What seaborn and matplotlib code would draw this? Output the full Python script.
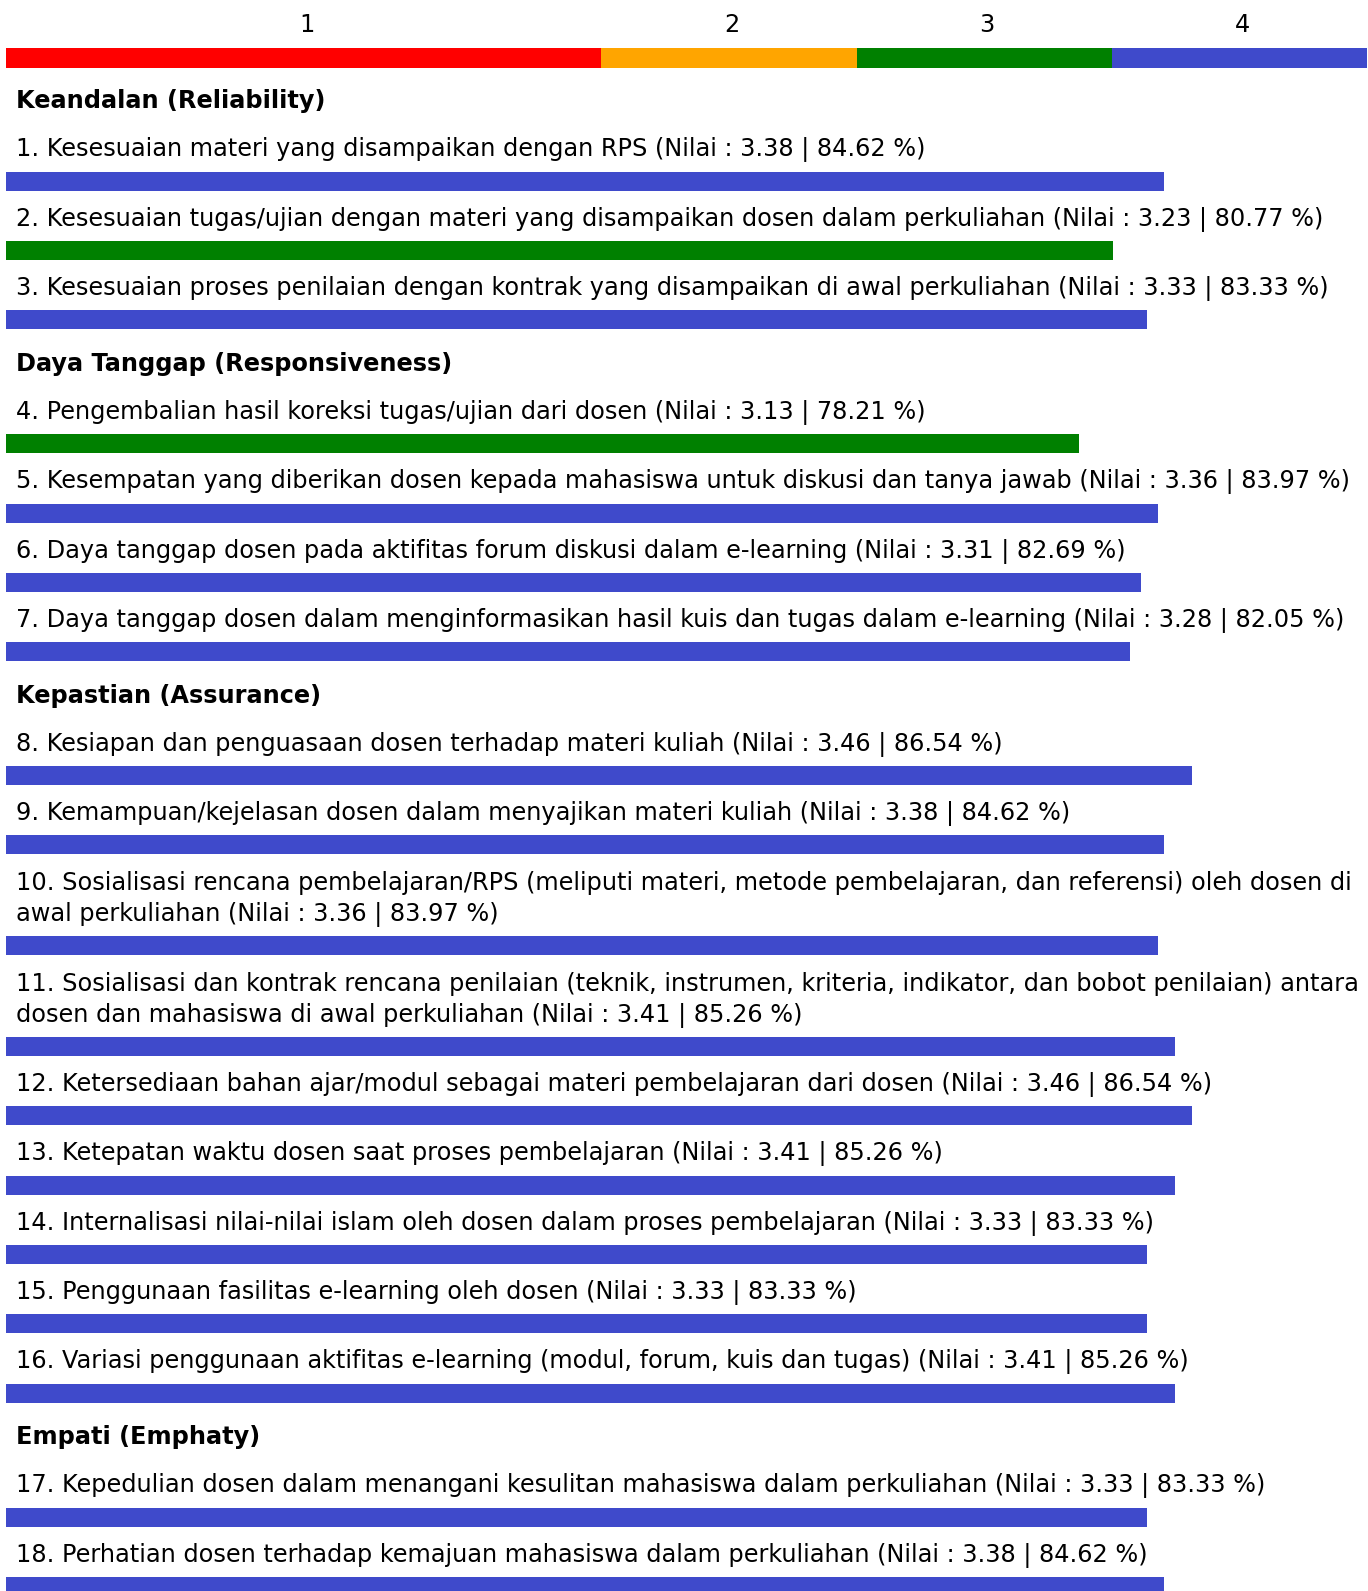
import numpy as np
import pandas as pd
import matplotlib.pyplot as plt
import seaborn as sns
from matplotlib.transforms import blended_transform_factory, ScaledTranslation

# Skala penilaian (batas nilai dan warna)
scale_edges = [0, 1.75, 2.5, 3.25, 4]
scale_labels = ["1", "2", "3", "4"]
scale_colors = ["#ff0000", "#ffa500", "#008000", "#3f4acb"]

# Kategori (aspek)
sections = ["Keandalan (Reliability)", "Daya Tanggap (Responsiveness)",
            "Kepastian (Assurance)", "Empati (Emphaty)"]
section_of = [0, 0, 0, 1, 1, 1, 1, 2, 2, 2, 2, 2, 2, 2, 2, 2, 3, 3]

items = [
    "Kesesuaian materi yang disampaikan dengan RPS",
    "Kesesuaian tugas/ujian dengan materi yang disampaikan dosen dalam perkuliahan",
    "Kesesuaian proses penilaian dengan kontrak yang disampaikan di awal perkuliahan",
    "Pengembalian hasil koreksi tugas/ujian dari dosen",
    "Kesempatan yang diberikan dosen kepada mahasiswa untuk diskusi dan tanya jawab",
    "Daya tanggap dosen pada aktifitas forum diskusi dalam e-learning",
    "Daya tanggap dosen dalam menginformasikan hasil kuis dan tugas dalam e-learning",
    "Kesiapan dan penguasaan dosen terhadap materi kuliah",
    "Kemampuan/kejelasan dosen dalam menyajikan materi kuliah",
    "Sosialisasi rencana pembelajaran/RPS (meliputi materi, metode pembelajaran, dan referensi) oleh dosen di\nawal perkuliahan",
    "Sosialisasi dan kontrak rencana penilaian (teknik, instrumen, kriteria, indikator, dan bobot penilaian) antara\ndosen dan mahasiswa di awal perkuliahan",
    "Ketersediaan bahan ajar/modul sebagai materi pembelajaran dari dosen",
    "Ketepatan waktu dosen saat proses pembelajaran",
    "Internalisasi nilai-nilai islam oleh dosen dalam proses pembelajaran",
    "Penggunaan fasilitas e-learning oleh dosen",
    "Variasi penggunaan aktifitas e-learning (modul, forum, kuis dan tugas)",
    "Kepedulian dosen dalam menangani kesulitan mahasiswa dalam perkuliahan",
    "Perhatian dosen terhadap kemajuan mahasiswa dalam perkuliahan",
]
nilai = [3.38, 3.23, 3.33, 3.13, 3.36, 3.31, 3.28, 3.46, 3.38,
         3.36, 3.41, 3.46, 3.41, 3.33, 3.33, 3.41, 3.33, 3.38]
persen = [84.62, 80.77, 83.33, 78.21, 83.97, 82.69, 82.05, 86.54, 84.62,
          83.97, 85.26, 86.54, 85.26, 83.33, 83.33, 85.26, 83.33, 84.62]

# Ukuran gambar (piksel)
W, H = 1368, 1591
FS = 17.3
bar_h = 19
line_gap = 31.5

sns.set_theme(style="white")
plt.rcParams['font.family'] = ['DejaVu Sans']

# Tata letak vertikal (piksel dari atas)
header_y, text_y, bar_y = [], [], []
y = 99.5
prev = None
for i, sec in enumerate(section_of):
    if sec != prev:
        if prev is not None:
            y += 42.6
        header_y.append(y)
        y += 47.7
    else:
        y += 35.5
    n_lines = items[i].count("\n") + 1
    text_y.append(y)
    y += line_gap * (n_lines - 1)
    y += 33.8
    bar_y.append(y)
    prev = sec

# Warna bar berdasarkan skala
band = np.digitize(nilai, scale_edges[1:-1])
df = pd.DataFrame({"nilai": nilai, "y": bar_y, "band": [scale_labels[b] for b in band]})

fig = plt.figure(figsize=(W / 100, H / 100), dpi=100)

# Skala di atas
ax_top = fig.add_axes([6 / W, 1 - 67.5 / H, (W - 7) / W, 19.5 / H])
ax_top.barh(0, np.diff(scale_edges), left=scale_edges[:-1], height=1,
            color=scale_colors, linewidth=0)
ax_top.set_xlim(scale_edges[0], scale_edges[-1])
ax_top.set_ylim(-0.5, 0.5)
ax_top.axis("off")
tr_top = blended_transform_factory(ax_top.transData, fig.transFigure) + \
    ScaledTranslation(3 / 100, 0, fig.dpi_scale_trans)
mids = (np.array(scale_edges[:-1]) + np.array(scale_edges[1:])) / 2
for m, lab in zip(mids, scale_labels):
    ax_top.text(m, 1 - 25.5 / H, lab, transform=tr_top, ha="center", va="center",
                fontsize=FS, color="black")

# Bar utama
ax = fig.add_axes([0, 0, 1, 1])
px_per_unit = 1371 / 4
x0 = -6 / px_per_unit
min_gap = np.min(np.diff(bar_y))
sns.barplot(data=df, x="nilai", y="y", hue="band", orient="y", native_scale=True,
            palette=dict(zip(scale_labels, scale_colors)), width=bar_h / min_gap,
            dodge=False, legend=False, errorbar=None, saturation=1, ax=ax,
            linewidth=0)
ax.set_xlim(x0, x0 + W / px_per_unit)
ax.set_ylim(H, 0)
ax.axis("off")

tr = blended_transform_factory(ax.transAxes, ax.transData)
for s, hy in zip(sections, header_y):
    ax.text(16 / W, hy + 1.5, s, transform=tr, ha="left", va="center",
            fontsize=FS, fontweight="bold", color="black")
for i, (t, v, p) in enumerate(zip(items, nilai, persen)):
    label = f"{i + 1}. {t} (Nilai : {v:.2f} | {p:.2f} %)"
    for k, line in enumerate(label.split("\n")):
        ax.text(16 / W, text_y[i] + 2.5 + k * line_gap, line, transform=tr,
                ha="left", va="center", fontsize=FS, color="black")

fig.savefig("out.png", dpi=100)
